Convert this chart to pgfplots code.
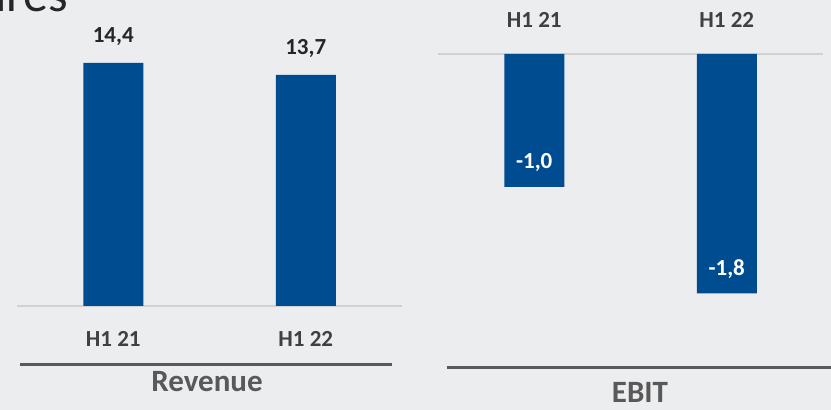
\documentclass[border=0pt]{standalone}
\usepackage{pgfplots}
\pgfplotsset{compat=1.18}
\usepackage{fontspec}
\setmainfont{Carlito}
\definecolor{barblue}{RGB}{0,76,145}
\definecolor{bgc}{RGB}{236,237,239}
\definecolor{lblc}{RGB}{64,64,64}
\definecolor{valc}{RGB}{38,38,38}
\definecolor{titc}{RGB}{89,89,89}
\definecolor{zeroc}{RGB}{210,210,212}
\begin{document}
\begin{tikzpicture}
\useasboundingbox (0,0) rectangle (831pt,410pt);
\clip (0,0) rectangle (831pt,410pt);
\fill[bgc] (0,0) rectangle (831pt,410pt);
% decorative title fragment
\node[anchor=base east, font=\fontsize{50}{50}\selectfont, text=valc, inner sep=0pt] at (68pt,398pt) {figures};
\begin{axis}[
  at={(17pt,104pt)}, anchor=south west,
  scale only axis, width=385pt, height=270pt,
  xmin=-0.5, xmax=1.5, ymin=0, ymax=16,
  hide y axis,
  axis x line*=bottom,
  x axis line style={draw=zeroc, line width=1.2pt, -},
  xtick={0,1}, xticklabels={H1 21, H1 22},
  xtick style={draw=none},
  xticklabel style={anchor=center, yshift=-28.5pt, font=\fontsize{23}{23}\selectfont\bfseries, text=lblc},
  ybar, bar width=60pt,
  point meta=explicit symbolic,
  nodes near coords,
  every node near coord/.append style={anchor=center, yshift=26pt, font=\fontsize{23}{23}\selectfont\bfseries, text=valc},
  clip=false,
]
\addplot[fill=barblue, draw=none] coordinates {(0,14.4) [14,4] (1,13.7) [13,7]};
\end{axis}
\begin{axis}[
  at={(438pt,90pt)}, anchor=south west,
  scale only axis, width=385pt, height=266pt,
  xmin=-0.5, xmax=1.5, ymin=-2, ymax=0,
  hide y axis,
  axis x line*=top,
  x axis line style={draw=zeroc, line width=1.2pt, -},
  xtick={0,1}, xticklabels={H1 21, H1 22},
  xtick style={draw=none},
  xticklabel style={anchor=center, yshift=29.5pt, font=\fontsize{23}{23}\selectfont\bfseries, text=lblc},
  ybar, bar width=60pt,
  point meta=explicit symbolic,
  nodes near coords,
  every node near coord/.append style={anchor=center, yshift=24pt, font=\fontsize{23}{23}\selectfont\bfseries, text=white},
  clip=false,
]
\addplot[fill=barblue, draw=none] coordinates {(0,-1.0) [-1,0] (1,-1.8) [-1,8]};
\end{axis}
\draw[titc, line width=3pt] (20pt,45pt) -- (392pt,45pt);
\draw[titc, line width=3pt] (447pt,42pt) -- (831pt,42pt);
\node[anchor=base, inner sep=0pt, font=\fontsize{31}{31}\selectfont\bfseries, text=titc] at (207pt,18pt) {Revenue};
\node[anchor=base, inner sep=0pt, font=\fontsize{31}{31}\selectfont\bfseries, text=titc] at (640pt,7pt) {EBIT};
\end{tikzpicture}
\end{document}
